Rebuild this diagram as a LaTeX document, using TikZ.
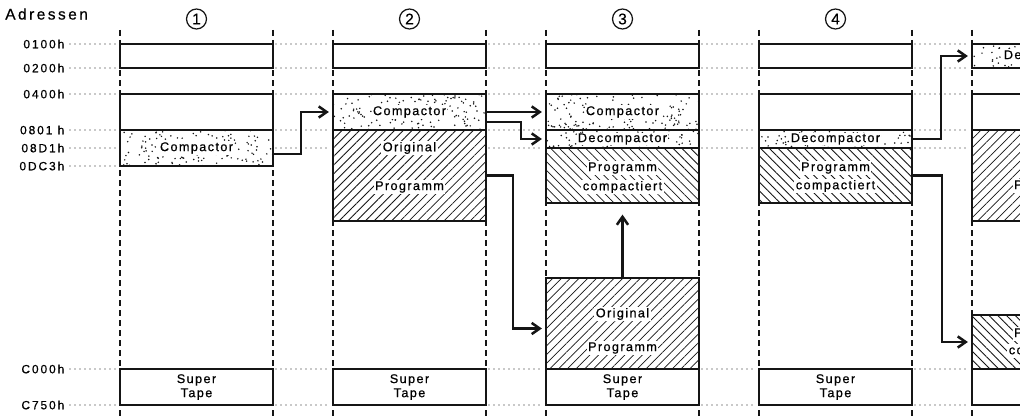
\documentclass[tikz,border=0pt]{standalone}
\usepackage{fontspec}
\setmainfont{Liberation Sans}[LetterSpace=11,FakeBold=0.6]
\usetikzlibrary{arrows.meta,patterns.meta,fit,calc}
\definecolor{ink}{HTML}{151515}
\newcommand{\boxfont}{\fontsize{9}{10}\selectfont}
\newcommand{\addrfont}{\fontsize{8.5}{10}\selectfont\addfontfeatures{LetterSpace=16}}
\newcommand{\headfont}{\fontsize{11}{12}\selectfont\addfontfeatures{LetterSpace=16}}
% random stipple inside a rectangle (pixel coordinates)
\newcommand{\stippled}[4]{%
  \begin{scope}
    \clip (#1,#2) rectangle (#3,#4);
    \pgfmathtruncatemacro{\ndots}{abs((#3-#1)*(#4-#2))/40}
    \foreach \k in {1,...,\ndots}
      \fill[ink] ({#1+rnd*(#3-#1)},{#2+rnd*(#4-#2)}) circle (0.6pt);
  \end{scope}}

\begin{document}
\begin{tikzpicture}[
  x=0.25mm, y=-0.25mm,
  box/.style={draw=ink, line width=1.3pt, inner sep=0pt},
  hatchne/.style={box, pattern={Lines[angle=45,distance=4.4pt,line width=0.55pt]}, pattern color=ink},
  hatchnw/.style={box, pattern={Lines[angle=-45,distance=4.4pt,line width=0.55pt]}, pattern color=ink},
  txt/.style={fill=white, inner sep=1pt, font=\boxfont},
  tape/.style={font=\boxfont, align=center, inner sep=0pt},
  addr/.style={anchor=east, font=\addrfont, inner sep=1pt},
  stage/.style={circle, draw=ink, line width=0.9pt, minimum size=5mm, inner sep=0pt, font=\fontsize{11}{11}\selectfont},
  flow/.style={draw=ink, line width=1.8pt, -{Straight Barb[length=2mm,width=2.8mm]}, shorten >=0.8mm},
  guide/.style={draw=ink, line width=0.9pt, dash pattern=on 0pt off 1.25mm, line cap=round},
  border/.style={draw=ink, line width=0.8pt, dash pattern=on 1.5mm off 1mm}
]
  \useasboundingbox (0,0) rectangle (1020,420);
  \clip (0,0) rectangle (1020,420);
  \pgfmathsetseed{2024}

  % column borders
  \foreach \xa/\xb in {120/273,333/486,546/699,759/912,972/1125}{
    \draw[border] (\xa,30) -- (\xa,420);
    \draw[border] (\xb,30) -- (\xb,420);
  }

  % address guides
  \foreach \r in {44,68,94,130,148,166,369,405}
    \draw[guide] (70,\r) -- (118,\r);
  \foreach \xa/\xb in {273/333,486/546,699/759,912/972}
    \foreach \r in {44,68,94,130,148,369,405}
      \draw[guide] (\xa+3,\r) -- (\xb-3,\r);

  % labels
  \node[anchor=west, font=\headfont, inner sep=0pt] (adr) at (5,14) {Adressen};
  \node[addr] (a0100) at (66,44) {0100h};
  \node[addr] (a0200) at (66,68) {0200h};
  \node[addr] (a0400) at (66,94) {0400h};
  \node[addr] (a0801) at (66,130) {0801 h};
  \node[addr] (a08D1) at (66,148) {08D1h};
  \node[addr] (a0DC3) at (66,166) {0DC3h};
  \node[addr] (aC000) at (66,369) {C000h};
  \node[addr] (aC750) at (66,405) {C750h};

  \node[stage] (s1) at (196.5,19) {1};
  \node[stage] (s2) at (409.5,19) {2};
  \node[stage] (s3) at (622.5,19) {3};
  \node[stage] (s4) at (835.5,19) {4};

  % stippled areas
  \stippled{120}{130}{273}{166}
  \stippled{333}{94}{486}{130}
  \stippled{546}{94}{699}{130}
  \stippled{546}{130}{699}{148}
  \stippled{759}{130}{912}{148}
  \stippled{972}{44}{1125}{68}

  % column 1
  \node[box, fit={(120,44) (273,68)}] (c1top) {};
  \node[box, fit={(120,94) (273,130)}] (c1free) {};
  \node[box, fit={(120,130) (273,166)}] (c1comp) {};
  \node[box, fit={(120,369) (273,405)}] (c1tape) {};
  \node[txt] (c1compt) at (c1comp) {Compactor};
  \node[tape] (c1tapet) at (c1tape) {Super\\Tape};

  % column 2
  \node[box, fit={(333,44) (486,68)}] (c2top) {};
  \node[box, fit={(333,94) (486,130)}] (c2comp) {};
  \node[hatchne, fit={(333,130) (486,221)}] (c2orig) {};
  \node[box, fit={(333,369) (486,405)}] (c2tape) {};
  \node[txt] (c2compt) at (c2comp) {Compactor};
  \node[txt] (c2origa) at (409.5,148) {Original};
  \node[txt] (c2origb) at (409.5,187) {Programm};
  \node[tape] (c2tapet) at (c2tape) {Super\\Tape};

  % column 3
  \node[box, fit={(546,44) (699,68)}] (c3top) {};
  \node[box, fit={(546,94) (699,130)}] (c3comp) {};
  \node[box, fit={(546,130) (699,148)}] (c3decomp) {};
  \node[hatchnw, fit={(546,148) (699,203)}] (c3prog) {};
  \node[hatchne, fit={(546,278) (699,369)}] (c3orig) {};
  \node[box, fit={(546,369) (699,405)}] (c3tape) {};
  \node[txt] (c3compt) at (c3comp) {Compactor};
  \node[txt, inner sep=0.5pt] (c3decompt) at (c3decomp) {Decompactor};
  \node[txt] (c3proga) at (622.5,168) {Programm};
  \node[txt] (c3progb) at (622.5,187) {compactiert};
  \node[txt] (c3origa) at (622.5,314) {Original};
  \node[txt] (c3origb) at (622.5,348) {Programm};
  \node[tape] (c3tapet) at (c3tape) {Super\\Tape};

  % column 4
  \node[box, fit={(759,44) (912,68)}] (c4top) {};
  \node[box, fit={(759,94) (912,130)}] (c4free) {};
  \node[box, fit={(759,130) (912,148)}] (c4decomp) {};
  \node[hatchnw, fit={(759,148) (912,203)}] (c4prog) {};
  \node[box, fit={(759,369) (912,405)}] (c4tape) {};
  \node[txt, inner sep=0.5pt] (c4decompt) at (c4decomp) {Decompactor};
  \node[txt] (c4proga) at (835.5,168) {Programm};
  \node[txt] (c4progb) at (835.5,186) {compactiert};
  \node[tape] (c4tapet) at (c4tape) {Super\\Tape};

  % column 5
  \node[box, fit={(972,44) (1125,68)}] (c5decomp) {};
  \node[box, fit={(972,94) (1125,130)}] (c5free) {};
  \node[hatchne, fit={(972,130) (1125,221)}] (c5orig) {};
  \node[hatchnw, fit={(972,315) (1125,369)}] (c5prog) {};
  \node[box, fit={(972,369) (1125,405)}] (c5tape) {};
  \node[txt] (c5decompt) at (c5decomp) {Decompactor};
  \node[txt] (c5origa) at (1048.5,148) {Original};
  \node[txt] (c5origb) at (1048.5,186) {Programm};
  \node[txt] (c5proga) at (1048.5,334) {Programm};
  \node[txt] (c5progb) at (1048.5,351) {compactiert};
  \node[tape] (c5tapet) at (c5tape) {Super\\Tape};

  % transfers
  \draw[flow] ($(c1comp.east)+(0,6)$) -| ($(c2comp.west)+(-31,0)$) -- (c2comp.west);
  \draw[flow] (c2comp.east) -- (c3comp.west);
  \draw[flow] ($(c2comp.east)+(0,10)$) -| ($(c3decomp.west)+(-24,0)$) -- (c3decomp.west);
  \draw[flow] (c2orig.east) -| ($(c3orig.west)+(-32,5)$) -- ($(c3orig.west)+(0,5)$);
  \draw[flow, shorten >=2.8mm] (c3orig.north) -- (c3prog.south);
  \draw[flow] (c4decomp.east) -| ($(c5decomp.west)+(-30,0)$) -- (c5decomp.west);
  \draw[flow] (c4prog.east) -| ($(c5prog.west)+(-29,0)$) -- (c5prog.west);
\end{tikzpicture}
\end{document}
